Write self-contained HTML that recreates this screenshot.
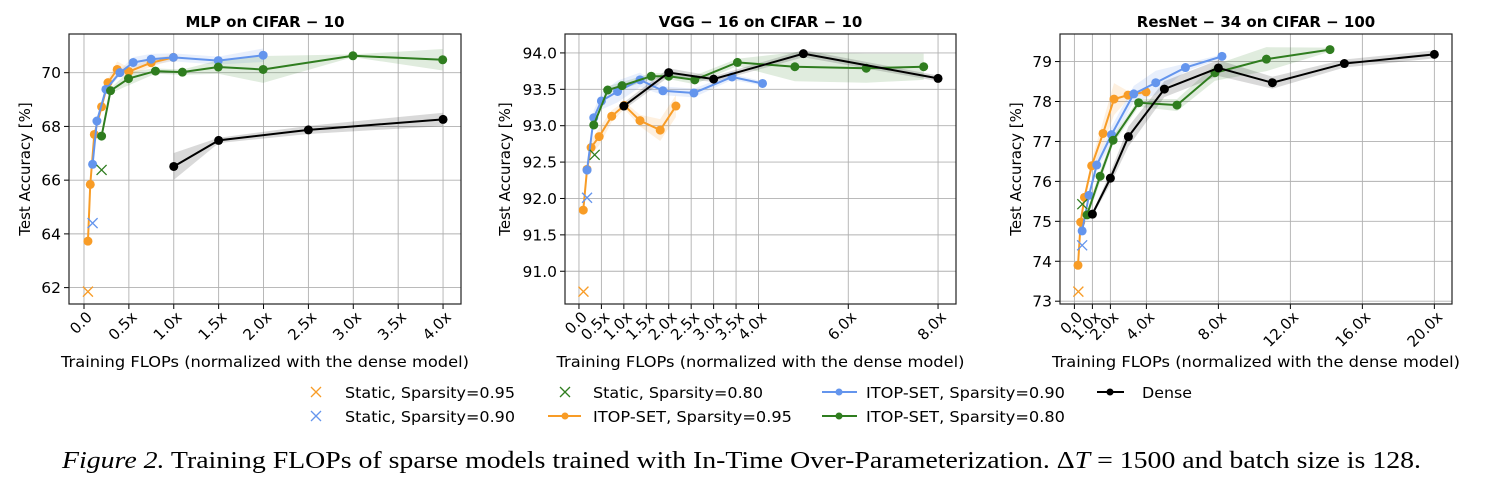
<!DOCTYPE html>
<html><head><meta charset="utf-8">
<style>
html,body{margin:0;padding:0;background:#fff;}
svg{display:block;}
text{font-family:"DejaVu Sans","Liberation Sans",sans-serif;}
</style></head>
<body>
<svg id="fig" width="1486" height="480" viewBox="0 0 1486 480" xmlns="http://www.w3.org/2000/svg"></svg>
<script>
// ---------- Panel 1: MLP on CIFAR-10 ----------
const p1OrangeX = [0.044,0.07,0.115,0.196,0.267,0.37,0.5,0.748,0.996];
const p1OrangeY = [63.73,65.84,67.7,68.73,69.63,70.12,70.04,70.37,70.57];
const p1OrangeS = [0.05,0.05,0.1,0.1,0.15,0.3,0.15,0.15,0.1];
const p1BlueX = [0.096,0.144,0.244,0.4,0.548,0.748,0.996,1.496,1.996];
const p1BlueY = [66.59,68.2,69.38,70.0,70.38,70.5,70.57,70.45,70.65];
const p1BlueS = [0.05,0.05,0.1,0.1,0.2,0.2,0.15,0.15,0.25];
const p1GreenX = [0.196,0.296,0.496,0.796,1.096,1.496,1.996,2.996,3.996];
const p1GreenY = [67.64,69.33,69.78,70.06,70.02,70.21,70.12,70.63,70.48];
const p1GreenS = [0.05,0.1,0.25,0.1,0.1,0.25,0.5,0.05,0.4];
const p1DenseX = [1,1.5,2.5,4];
const p1DenseY = [66.51,67.48,67.87,68.26];
const p1DenseS = [0.5,0.1,0.15,0.25];
const p1CrossX = [0.044,0.096,0.196];
const p1CrossY = [61.85,64.4,66.38];
const p1XTicks = [0,0.5,1,1.5,2,2.5,3,3.5,4];
const p1XTickLabels = ["0.0","0.5x","1.0x","1.5x","2.0x","2.5x","3.0x","3.5x","4.0x"];
const p1YTicks = [62,64,66,68,70];
const p1YTickLabels = ["62","64","66","68","70"];

// ---------- Panel 2: VGG-16 on CIFAR-10 ----------
const p2OrangeX = [0.096,0.18,0.27,0.45,0.73,1.01,1.36,1.81,2.16];
const p2OrangeY = [91.84,92.4,92.7,92.85,93.13,93.28,93.07,92.94,93.27];
const p2OrangeS = [0.02,0.05,0.1,0.12,0.08,0.05,0.08,0.15,0.15];
const p2BlueX = [0.18,0.33,0.5,0.86,1.36,1.87,2.56,3.41,4.09];
const p2BlueY = [92.39,93.11,93.34,93.47,93.63,93.48,93.45,93.67,93.58];
const p2BlueS = [0.03,0.1,0.12,0.15,0.1,0.06,0.06,0.04,0.03];
const p2GreenX = [0.33,0.64,0.96,1.61,2.0,2.58,3.53,4.81,6.4,7.68];
const p2GreenY = [93.01,93.49,93.55,93.68,93.68,93.63,93.87,93.81,93.79,93.81];
const p2GreenS = [0.03,0.05,0.05,0.04,0.04,0.06,0.05,0.2,0.2,0.18];
const p2DenseX = [1,2,3,5,8];
const p2DenseY = [93.27,93.73,93.64,93.99,93.65];
const p2DenseS = [0.05,0.06,0.04,0.05,0.04];
const p2CrossX = [0.1,0.18,0.35];
const p2CrossY = [90.72,92.01,92.6];
const p2XTicks = [0,0.5,1,1.5,2,2.5,3,3.5,4,6,8];
const p2XTickLabels = ["0.0","0.5x","1.0x","1.5x","2.0x","2.5x","3.0x","3.5x","4.0x","6.0x","8.0x"];
const p2YTicks = [91.0,91.5,92.0,92.5,93.0,93.5,94.0];
const p2YTickLabels = ["91.0","91.5","92.0","92.5","93.0","93.5","94.0"];

// ---------- Panel 3: ResNet-34 on CIFAR-100 ----------
const p3OrangeX = [0.2,0.35,0.56,0.96,1.59,2.2,2.98,3.98];
const p3OrangeY = [73.9,74.98,75.6,76.39,77.2,78.06,78.16,78.24];
const p3OrangeS = [0.05,0.05,0.1,0.15,0.3,0.4,0.1,0.05];
const p3BlueX = [0.43,0.81,1.24,2.06,3.3,4.52,6.17,8.2];
const p3BlueY = [74.76,75.65,76.41,77.17,78.19,78.47,78.85,79.13];
const p3BlueS = [0.05,0.1,0.15,0.2,0.2,0.3,0.1,0.05];
const p3GreenX = [0.7,1.43,2.15,3.57,5.7,7.81,10.67,14.2];
const p3GreenY = [75.16,76.13,77.03,77.97,77.91,78.72,79.06,79.3];
const p3GreenS = [0.1,0.15,0.1,0.1,0.15,0.2,0.3,0.05];
const p3DenseX = [1,2,3,5,8,11,15,20];
const p3DenseY = [75.18,76.08,77.12,78.31,78.84,78.47,78.95,79.18];
const p3DenseS = [0.05,0.15,0.25,0.2,0.2,0.15,0.1,0.1];
const p3CrossX = [0.22,0.43,0.44];
const p3CrossY = [73.24,74.4,75.43];
const p3XTicks = [0,1,2,4,8,12,16,20];
const p3XTickLabels = ["0.0","1.0x","2.0x","4.0x","8.0x","12.0x","16.0x","20.0x"];
const p3YTicks = [73,74,75,76,77,78,79];
const p3YTickLabels = ["73","74","75","76","77","78","79"];

const COL = {orange:"#f89c26", blue:"#6495ed", green:"#2f7d1f", black:"#000000"};
const NS = "http://www.w3.org/2000/svg";
const svg = document.getElementById("fig");

function mk(tag, attrs, parent){
  const e = document.createElementNS(NS, tag);
  for (const k in attrs) e.setAttribute(k, attrs[k]);
  (parent||svg).appendChild(e);
  return e;
}

function panel(cfg){
  const g = mk("g", {});
  
  
  const L=cfg.box[0], R=cfg.box[1], T=34, B=304;
  const sx = v => L + (v - cfg.xr[0])/(cfg.xr[1]-cfg.xr[0])*(R-L);
  const sy = v => B - (v - cfg.yr[0])/(cfg.yr[1]-cfg.yr[0])*(B-T);
  cfg.xt.forEach((t,i)=>{
    const x=sx(t);
    const gl = mk("line",{x1:x,x2:x,y1:T,y2:B,stroke:"#b0b0b0","stroke-width":0.9},g);
    
    
    mk("line",{x1:x,x2:x,y1:B,y2:B+5,stroke:"#000","stroke-width":1},g);
    const tx = mk("text",{x:0,y:0,"font-size":15,"text-anchor":"end",transform:`translate(${x+9},${B+14}) rotate(-45)`,fill:"#000"},g);
    tx.textContent = cfg.xl[i];
    
    
  });
  cfg.yt.forEach((t,i)=>{
    const y=sy(t);
    const gl = mk("line",{x1:L,x2:R,y1:y,y2:y,stroke:"#b0b0b0","stroke-width":0.9},g);
    
    
    mk("line",{x1:L-5,x2:L,y1:y,y2:y,stroke:"#000","stroke-width":1},g);
    const ty = mk("text",{x:L-8,y:y+5.5,"font-size":15.5,"text-anchor":"end",fill:"#000"},g);
    ty.textContent = cfg.yl[i];
    
    
  });
  const cid = cfg.name+"-clip";
  const cp = mk("clipPath",{id:cid},g);
  mk("rect",{x:L,y:T,width:R-L,height:B-T},cp);
  const plot = mk("g",{"clip-path":`url(#${cid})`},g);
  cfg.series.forEach(s=>{
    let up="", dn="";
    s.x.forEach((v,i)=>{ up += (i?"L":"M")+sx(v)+","+sy(s.y[i]+s.s[i]); });
    for(let i=s.x.length-1;i>=0;i--){ dn += "L"+sx(s.x[i])+","+sy(s.y[i]-s.s[i]); }
    const band = mk("path",{d:up+dn+"Z",fill:s.c,"fill-opacity":0.15,stroke:"none"},plot);
    
    
  });
  cfg.series.forEach(s=>{
    const pts = s.x.map((v,i)=>sx(v)+","+sy(s.y[i])).join(" ");
    const pl = mk("polyline",{points:pts,fill:"none",stroke:s.c,"stroke-width":2},plot);
    
    
    s.x.forEach((v,i)=>{
      const c = mk("circle",{cx:sx(v),cy:sy(s.y[i]),r:4.5,fill:s.c},plot);
      
      
    });
  });
  const ccols=[COL.orange,COL.blue,COL.green];
  cfg.cx.forEach((v,i)=>{
    const x=sx(v), y=sy(cfg.cy[i]), d=5;
    const cr = mk("path",{d:`M${x-d},${y-d}L${x+d},${y+d}M${x-d},${y+d}L${x+d},${y-d}`,stroke:ccols[i],"stroke-width":1.3,fill:"none"},plot);
    
    
  });
  const fr = mk("rect",{x:L,y:T,width:R-L,height:B-T,fill:"none",stroke:"#222","stroke-width":1.2},g);
  
  
  const ti = mk("text",{x:(L+R)/2,y:27,"font-size":15,"font-weight":"bold","text-anchor":"middle"},g);
  ti.textContent = cfg.title;
  
  
  const yt = mk("text",{x:0,y:0,"font-size":15,"text-anchor":"middle",transform:`translate(${cfg.ylx},${(T+B)/2}) rotate(-90)`},g);
  yt.textContent = "Test Accuracy [%]";
  
  
  const xt = mk("text",{x:(L+R)/2,y:367,"font-size":15,"text-anchor":"middle",textLength:408,lengthAdjust:"spacingAndGlyphs"},g);
  xt.textContent = "Training FLOPs (normalized with the dense model)";
  
  
}

function series(ox,oy,os,bx,by,bs,gx,gy,gs,dx,dy,ds){
  return [
    {n:"itop-095",x:ox,y:oy,s:os,c:COL.orange},
    {n:"itop-090",x:bx,y:by,s:bs,c:COL.blue},
    {n:"itop-080",x:gx,y:gy,s:gs,c:COL.green},
    {n:"dense",x:dx,y:dy,s:ds,c:COL.black}
  ];
}

panel({name:"mlp-panel",title:"MLP  on  CIFAR − 10",box:[69,461],xr:[-0.167,4.2],yr:[61.39,71.44],
  xt:p1XTicks,xl:p1XTickLabels,yt:p1YTicks,yl:p1YTickLabels,ylx:30,
  series:series(p1OrangeX,p1OrangeY,p1OrangeS,p1BlueX,p1BlueY,p1BlueS,p1GreenX,p1GreenY,p1GreenS,p1DenseX,p1DenseY,p1DenseS),
  cx:p1CrossX,cy:p1CrossY});
panel({name:"vgg-panel",title:"VGG − 16  on  CIFAR − 10",box:[565,956],xr:[-0.311,8.4],yr:[90.55,94.26],
  xt:p2XTicks,xl:p2XTickLabels,yt:p2YTicks,yl:p2YTickLabels,ylx:510,
  series:series(p2OrangeX,p2OrangeY,p2OrangeS,p2BlueX,p2BlueY,p2BlueS,p2GreenX,p2GreenY,p2GreenS,p2DenseX,p2DenseY,p2DenseS),
  cx:p2CrossX,cy:p2CrossY});
panel({name:"resnet-panel",title:"ResNet − 34  on  CIFAR − 100",box:[1060,1452],xr:[-0.8,20.98],yr:[72.93,79.69],
  xt:p3XTicks,xl:p3XTickLabels,yt:p3YTicks,yl:p3YTickLabels,ylx:1021,
  series:series(p3OrangeX,p3OrangeY,p3OrangeS,p3BlueX,p3BlueY,p3BlueS,p3GreenX,p3GreenY,p3GreenS,p3DenseX,p3DenseY,p3DenseS),
  cx:p3CrossX,cy:p3CrossY});
</script>

<svg style="position:absolute;left:0;top:0" width="1486" height="480" xmlns="http://www.w3.org/2000/svg">
  <g>
    <path d="M311,387L321,397M311,397L321,387" stroke="#f89c26" stroke-width="1.3"/>
    <text x="345" y="398" font-size="15" textLength="170" lengthAdjust="spacingAndGlyphs">Static, Sparsity=0.95</text>
  </g>
  <g>
    <path d="M311,411L321,421M311,421L321,411" stroke="#6495ed" stroke-width="1.3"/>
    <text x="345" y="422" font-size="15" textLength="170" lengthAdjust="spacingAndGlyphs">Static, Sparsity=0.90</text>
  </g>
  <g>
    <path d="M560,387L570,397M560,397L570,387" stroke="#2f7d1f" stroke-width="1.3"/>
    <text x="593" y="398" font-size="15" textLength="170" lengthAdjust="spacingAndGlyphs">Static, Sparsity=0.80</text>
  </g>
  <g>
    <line x1="548" x2="581" y1="416" y2="416" stroke="#f89c26" stroke-width="2"/>
    <circle cx="565" cy="416" r="3.5" fill="#f89c26"/>
    <text x="593" y="422" font-size="15" textLength="199" lengthAdjust="spacingAndGlyphs">ITOP-SET, Sparsity=0.95</text>
  </g>
  <g>
    <line x1="822" x2="857" y1="392" y2="392" stroke="#6495ed" stroke-width="2"/>
    <circle cx="839" cy="392" r="3.5" fill="#6495ed"/>
    <text x="866" y="398" font-size="15" textLength="199" lengthAdjust="spacingAndGlyphs">ITOP-SET, Sparsity=0.90</text>
  </g>
  <g>
    <line x1="822" x2="857" y1="416" y2="416" stroke="#2f7d1f" stroke-width="2"/>
    <circle cx="839" cy="416" r="3.5" fill="#2f7d1f"/>
    <text x="866" y="422" font-size="15" textLength="199" lengthAdjust="spacingAndGlyphs">ITOP-SET, Sparsity=0.80</text>
  </g>
  <g>
    <line x1="1097" x2="1124" y1="392" y2="392" stroke="#000" stroke-width="2"/>
    <circle cx="1110" cy="392" r="3.5" fill="#000"/>
    <text x="1142" y="398" font-size="15" textLength="50" lengthAdjust="spacingAndGlyphs">Dense</text>
  </g>
  <text x="62" y="468" font-size="24" style="font-family:'Liberation Serif',serif" textLength="1359" lengthAdjust="spacingAndGlyphs"><tspan font-style="italic">Figure 2.</tspan> Training FLOPs of sparse models trained with In-Time Over-Parameterization. Δ<tspan font-style="italic">T</tspan> = 1500 and batch size is 128.</text>
</svg>
</body></html>
